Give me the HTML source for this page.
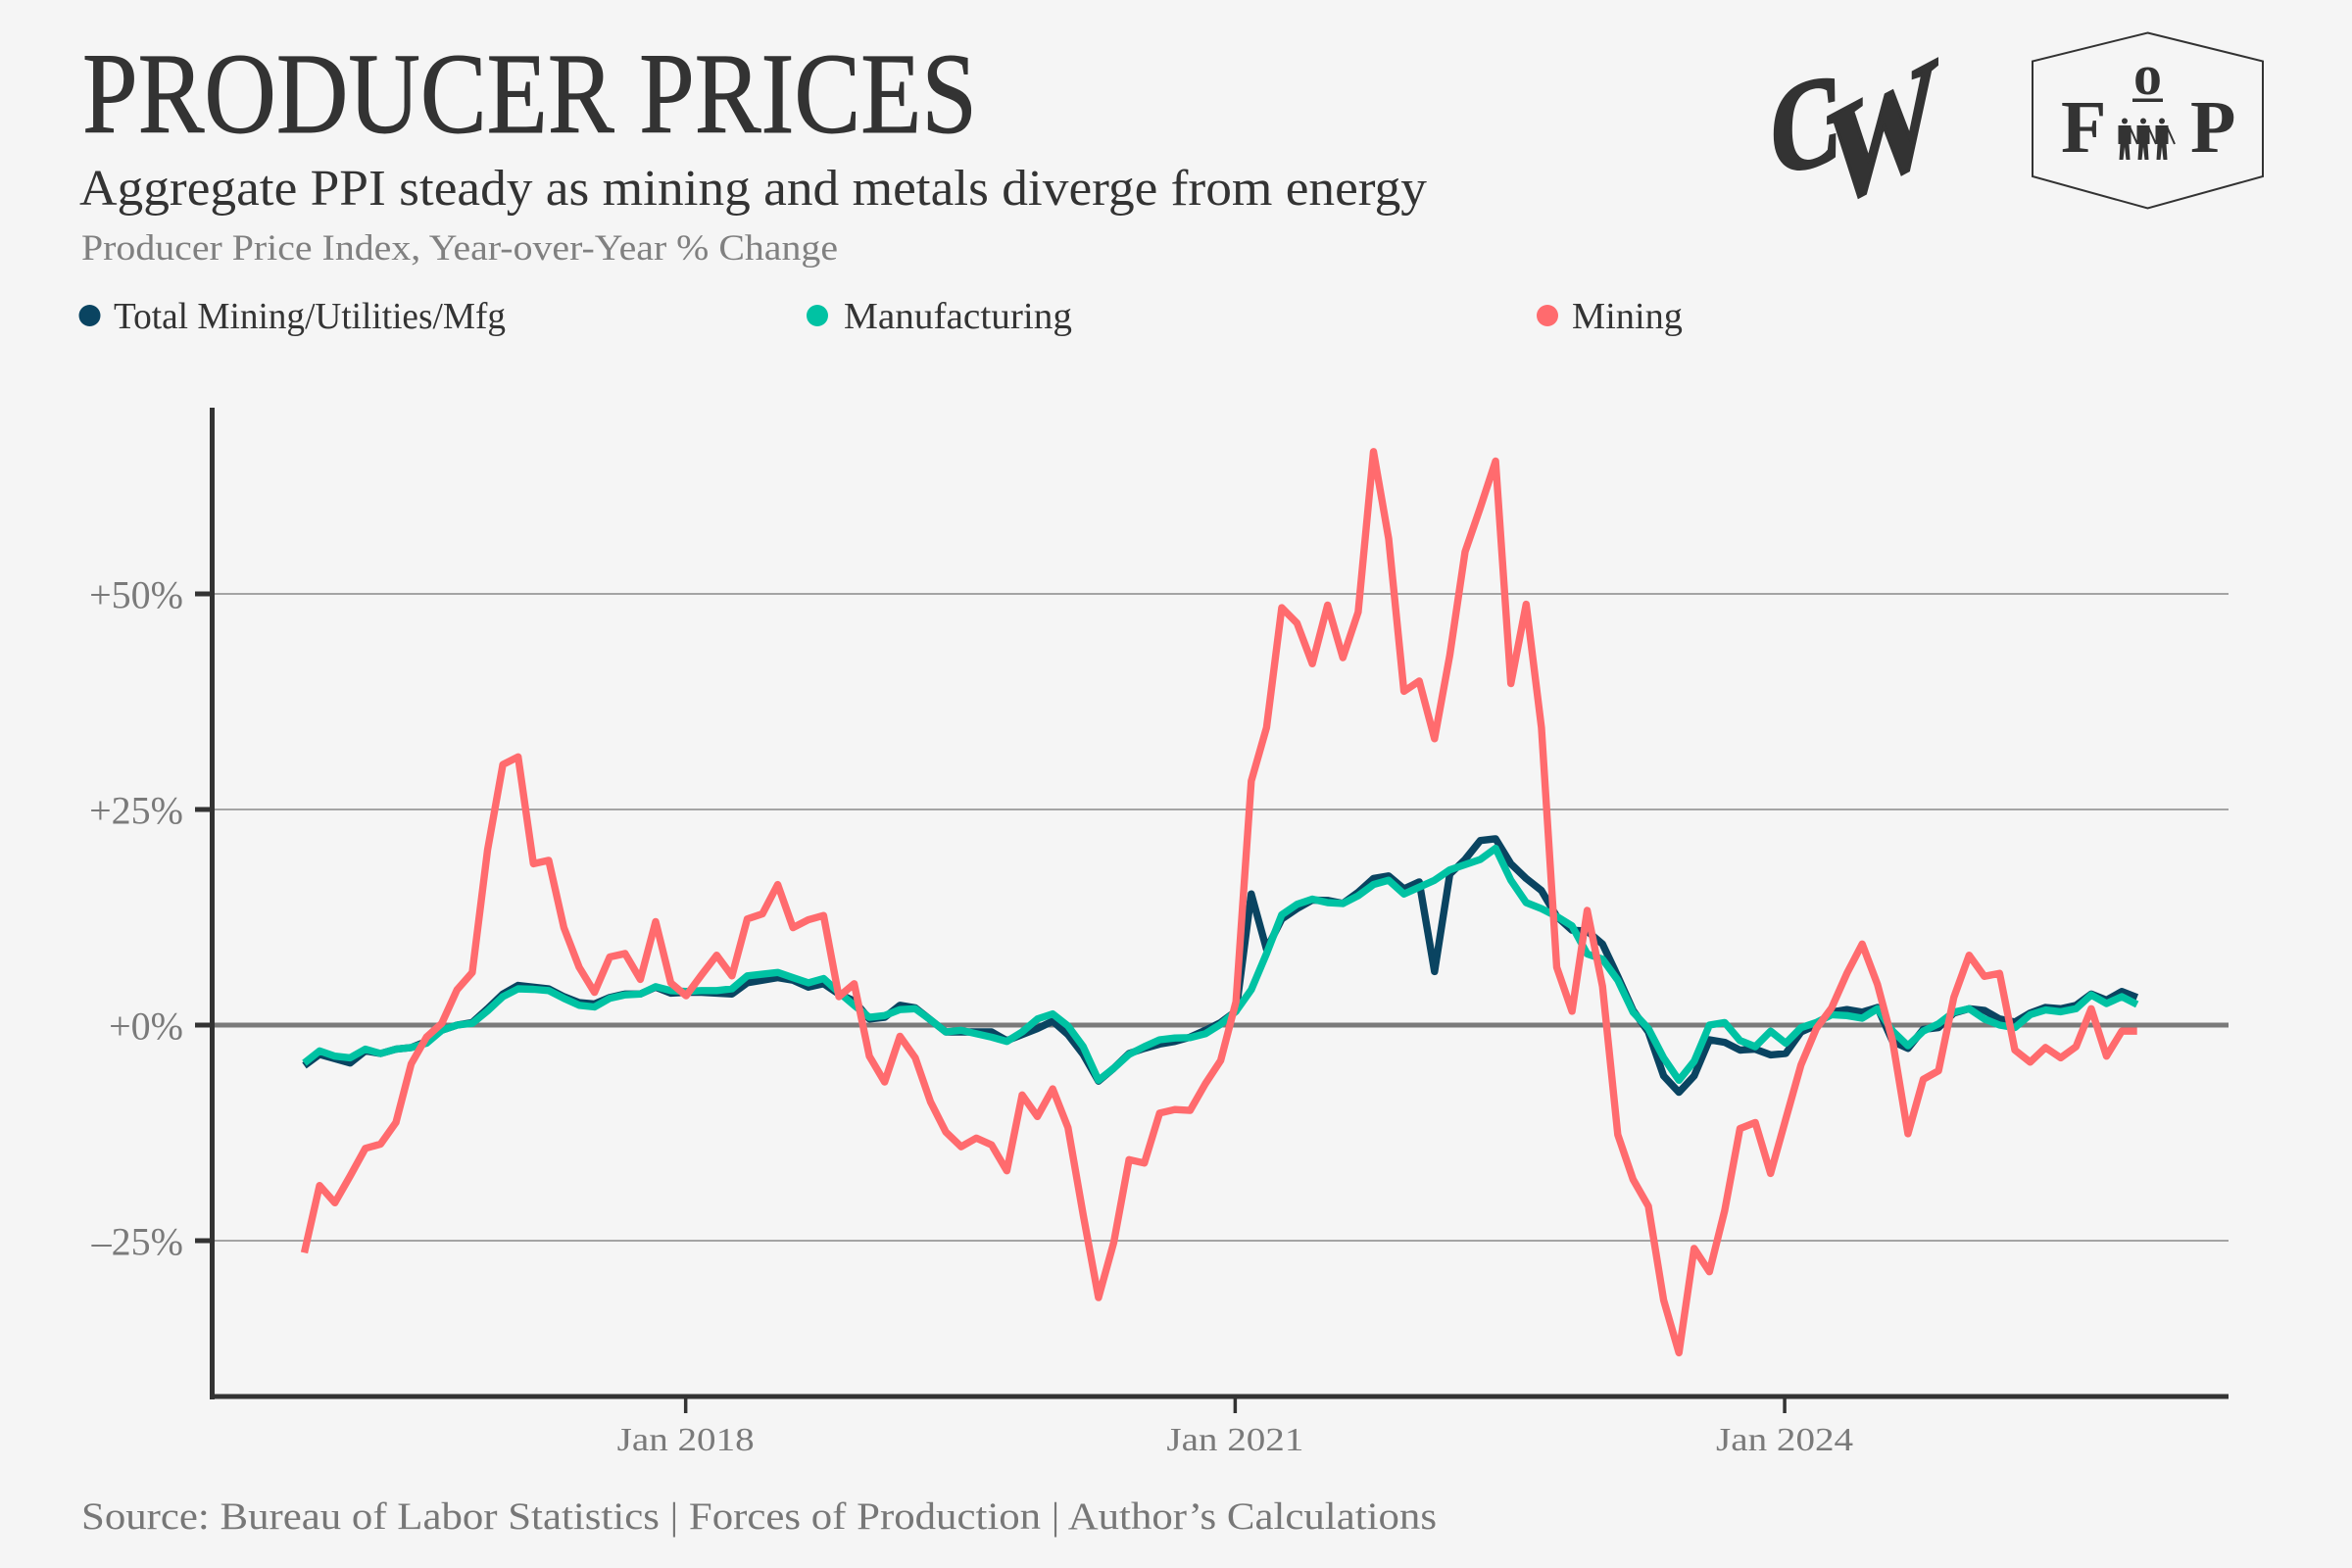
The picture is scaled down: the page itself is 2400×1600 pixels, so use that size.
<!DOCTYPE html>
<html lang="en">
<head>
<meta charset="utf-8">
<title>Producer Prices</title>
<style>
  html, body { margin: 0; padding: 0; background: #f5f5f5; }
  svg { display: block; }
  text { font-family: "Liberation Serif", serif; }
</style>
</head>
<body>
<svg id="chart" xmlns="http://www.w3.org/2000/svg" width="2400" height="1600" viewBox="0 0 2400 1600">
  <rect width="2400" height="1600" fill="#f5f5f5"/>
  <text x="84" y="135" font-size="118" fill="#333333" stroke="#333333" stroke-width="0.9" textLength="913" lengthAdjust="spacingAndGlyphs">PRODUCER PRICES</text>
  <text x="81" y="209" font-size="52" fill="#333333" textLength="1375" lengthAdjust="spacingAndGlyphs">Aggregate PPI steady as mining and metals diverge from energy</text>
  <text x="83" y="265" font-size="37" fill="#808080" textLength="772" lengthAdjust="spacingAndGlyphs">Producer Price Index, Year-over-Year % Change</text>

  <g>
    <g>
      <circle cx="91.5" cy="322" r="11" fill="#0a4461"/>
      <text x="116" y="335" font-size="38" fill="#333333" textLength="400" lengthAdjust="spacingAndGlyphs">Total Mining/Utilities/Mfg</text>
    </g>
    <g>
      <circle cx="834" cy="322" r="11" fill="#00c2a3"/>
      <text x="861" y="335" font-size="38" fill="#333333" textLength="233" lengthAdjust="spacingAndGlyphs">Manufacturing</text>
    </g>
    <g>
      <circle cx="1579" cy="322" r="11" fill="#ff6b6e"/>
      <text x="1604" y="335" font-size="38" fill="#333333" textLength="113" lengthAdjust="spacingAndGlyphs">Mining</text>
    </g>
  </g>

  <g fill="#333333" stroke="#333333" font-weight="700">
    <text transform="translate(1806,180) skewY(-14) scale(0.8,1.02)" font-size="128" stroke-width="3">C</text>
    <text transform="translate(1864,216) skewY(-28) scale(1.02,1.3)" font-size="112" stroke-width="3">W</text>
  </g>

  <g>
    <polygon points="2191.5,33.5 2309,62.5 2309,180 2191.5,212.5 2074,180 2074,62.5" fill="none" stroke="#333333" stroke-width="2"/>
    <text x="2103" y="155" font-size="76" font-weight="700" fill="#333333">F</text>
    <text x="2191.5" y="96" font-size="58" font-weight="700" fill="#333333" text-anchor="middle">o</text>
    <rect x="2176" y="100.5" width="31" height="3.5" fill="#333333"/>
    <text x="2235" y="155" font-size="76" font-weight="700" fill="#333333">P</text>
    <g fill="#333333" stroke="#333333">
      <g transform="translate(2168,120)">
        <circle cx="0" cy="3.5" r="3" stroke="none"/>
        <path d="M-6.5,8 L6.5,8 L6.5,27 L4.5,27 L5.5,43 L1.5,43 L0,30 L-1.5,43 L-5.5,43 L-4.5,27 L-6.5,27 Z" stroke="none"/>
        <path d="M5,9 L13,27" fill="none" stroke-width="2"/>
      </g>
      <g transform="translate(2187,120)">
        <circle cx="0" cy="3.5" r="3" stroke="none"/>
        <path d="M-6.5,8 L6.5,8 L6.5,27 L4.5,27 L5.5,43 L1.5,43 L0,30 L-1.5,43 L-5.5,43 L-4.5,27 L-6.5,27 Z" stroke="none"/>
        <path d="M5,9 L13,27" fill="none" stroke-width="2"/>
      </g>
      <g transform="translate(2206,120)">
        <circle cx="0" cy="3.5" r="3" stroke="none"/>
        <path d="M-6.5,8 L6.5,8 L6.5,27 L4.5,27 L5.5,43 L1.5,43 L0,30 L-1.5,43 L-5.5,43 L-4.5,27 L-6.5,27 Z" stroke="none"/>
        <path d="M5,9 L13,27" fill="none" stroke-width="2"/>
      </g>
    </g>
  </g>

  <g id="grid"></g>
  <g id="series"></g>
  <g id="axes"></g>

  <text x="83" y="1560" font-size="39" fill="#777777" textLength="1383" lengthAdjust="spacingAndGlyphs">Source: Bureau of Labor Statistics | Forces of Production | Author’s Calculations</text>
</svg>

<script>
// Monthly observations, Dec 2015 through Dec 2025 (index 0 = Dec 2015)
const totalValues = [
  -4.7,-3.4,-3.9,-4.4,-3.0,-3.3,-2.8,-2.6,-1.9,-0.6,0.0,0.3,1.9,3.6,4.6,4.4,4.2,3.3,2.6,2.45,
  3.2,3.6,3.6,4.4,3.7,3.8,3.8,3.7,3.6,4.9,5.2,5.5,5.2,4.4,4.8,3.6,2.8,0.7,0.9,2.3,
  2.0,0.6,-0.8,-0.8,-0.8,-0.8,-1.8,-1.1,-0.4,0.45,-1.1,-3.4,-6.5,-5.0,-3.3,-2.7,-2.2,-1.9,-1.4,-0.6,
  0.3,1.6,15.2,8.8,12.3,13.5,14.5,14.45,14.1,15.4,17.0,17.3,15.8,16.6,6.2,17.5,19.2,21.4,21.6,18.7,
  17.0,15.6,12.6,11.0,10.9,9.4,5.65,1.7,-0.8,-5.9,-7.8,-5.9,-1.7,-2.0,-2.9,-2.8,-3.45,-3.3,-0.8,0.0,
  1.5,1.8,1.5,2.05,-1.9,-2.7,-0.5,-0.3,1.4,1.9,1.7,0.7,0.35,1.4,2.05,1.9,2.3,3.6,2.9,3.9,
  3.2
];
const manufacturingValues = [
  -4.4,-3.0,-3.6,-3.8,-2.8,-3.3,-2.8,-2.6,-2.1,-0.6,0.0,0.2,1.65,3.3,4.2,4.15,4.0,3.1,2.3,2.1,
  3.1,3.5,3.6,4.45,4.0,3.9,4.0,4.0,4.2,5.7,5.9,6.1,5.5,4.9,5.4,3.8,2.3,0.9,1.1,1.8,
  1.9,0.6,-0.8,-0.6,-1.0,-1.4,-1.9,-0.8,0.7,1.3,-0.1,-2.5,-6.4,-5.0,-3.4,-2.5,-1.7,-1.5,-1.45,-1.0,
  0.1,1.6,4.1,8.3,12.8,14.0,14.6,14.2,14.1,15.0,16.3,16.8,15.2,16.0,16.8,18.0,18.6,19.2,20.5,16.8,
  14.2,13.5,12.6,11.5,8.25,7.65,5.2,1.5,-0.4,-3.8,-6.4,-4.2,0.0,0.3,-1.8,-2.5,-0.7,-2.1,-0.3,0.3,
  1.2,1.1,0.8,1.9,-0.7,-2.4,-0.7,0.15,1.5,1.9,0.7,0.0,-0.3,1.2,1.75,1.55,1.9,3.5,2.5,3.3,
  2.4
];
const miningValues = [
  -26.4,-18.6,-20.6,-17.5,-14.3,-13.8,-11.3,-4.5,-1.4,0.2,4.1,6.1,20.3,30.2,31.1,18.7,19.1,11.3,6.7,3.8,
  7.9,8.3,5.3,12.0,4.9,3.4,5.8,8.1,5.7,12.3,12.9,16.3,11.3,12.2,12.7,3.3,4.8,-3.6,-6.6,-1.3,
  -3.8,-8.9,-12.4,-14.1,-13.1,-13.9,-16.9,-8.1,-10.6,-7.4,-11.9,-22.0,-31.6,-25.2,-15.6,-16.0,-10.2,-9.8,-9.9,-6.8,
  -4.1,2.7,28.3,34.5,48.4,46.6,41.9,48.7,42.6,47.9,66.5,56.4,38.7,39.9,33.2,42.9,54.9,60.0,65.4,39.6,
  48.8,34.5,6.7,1.6,13.3,4.5,-12.7,-17.9,-21.0,-31.9,-38.0,-25.9,-28.6,-21.5,-12.0,-11.3,-17.2,-10.9,-4.6,-0.4,
  2.0,6.0,9.4,4.7,-1.9,-12.6,-6.3,-5.3,3.2,8.1,5.65,6.0,-2.9,-4.3,-2.6,-3.8,-2.5,1.9,-3.6,-0.7,
  -0.7
];
const yTickValues = [50, 25, 0, -25];
const yTickLabels = ["+50%", "+25%", "+0%", "\u201325%"];
const xTickMonths = [25, 61, 97];
const xTickLabels = ["Jan 2018", "Jan 2021", "Jan 2024"];

const NS = "http://www.w3.org/2000/svg";
const plotLeft = 216.5, plotRight = 2274, plotTop = 416, plotBottom = 1425;
function xScale(month) { return 310.5 + month * 15.585; }
function yScale(value) { return 1046 - value * 8.8; }
function make(tag, attrs, parent) {
  const el = document.createElementNS(NS, tag);
  for (const k in attrs) el.setAttribute(k, attrs[k]);
  parent.appendChild(el);
  return el;
}

const gridGroup = document.getElementById("grid");
const seriesGroup = document.getElementById("series");
const axesGroup = document.getElementById("axes");

yTickValues.forEach(function (v, i) {
  const y = yScale(v);
  const isZero = v === 0;
  const gridLine = make("line", { x1: plotLeft, x2: plotRight, y1: y, y2: y, stroke: isZero ? "#7a7a7a" : "#8a8a8a", "stroke-width": isZero ? 5 : 1.6 }, gridGroup);
  
  
  const tick = make("line", { x1: 199, x2: plotLeft, y1: y, y2: y, stroke: "#333333", "stroke-width": 5 }, axesGroup);
  
  
  const label = make("text", { x: 187, y: y + 14.5, "text-anchor": "end", "font-size": 40, fill: "#7a7a7a" }, axesGroup);
  label.textContent = yTickLabels[i];
  
  
});

function drawSeries(values, color, seriesName) {
  const points = values.map(function (v, i) { return xScale(i).toFixed(1) + "," + yScale(v).toFixed(1); }).join(" ");
  const line = make("polyline", { points: points, fill: "none", stroke: color, "stroke-width": 7.4, "stroke-linejoin": "round", "stroke-linecap": "butt" }, seriesGroup);
  
  
}
drawSeries(totalValues, "#0a4461", "line-total");
drawSeries(manufacturingValues, "#00c2a3", "line-manufacturing");
drawSeries(miningValues, "#ff6b6e", "line-mining");

const yAxis = make("line", { x1: plotLeft, x2: plotLeft, y1: plotTop, y2: plotBottom + 3, stroke: "#333333", "stroke-width": 5 }, axesGroup);


const xAxis = make("line", { x1: plotLeft - 2.5, x2: plotRight, y1: plotBottom, y2: plotBottom, stroke: "#333333", "stroke-width": 5 }, axesGroup);



xTickMonths.forEach(function (m, i) {
  const x = 310.3 + m * 15.575;
  const tick = make("line", { x1: x, x2: x, y1: plotBottom, y2: 1442, stroke: "#333333", "stroke-width": 3.5 }, axesGroup);
  
  
  const label = make("text", { x: x, y: 1480, "text-anchor": "middle", "font-size": 34, fill: "#7a7a7a", textLength: 140, lengthAdjust: "spacingAndGlyphs" }, axesGroup);
  label.textContent = xTickLabels[i];
  
  
});
</script>
</body>
</html>
